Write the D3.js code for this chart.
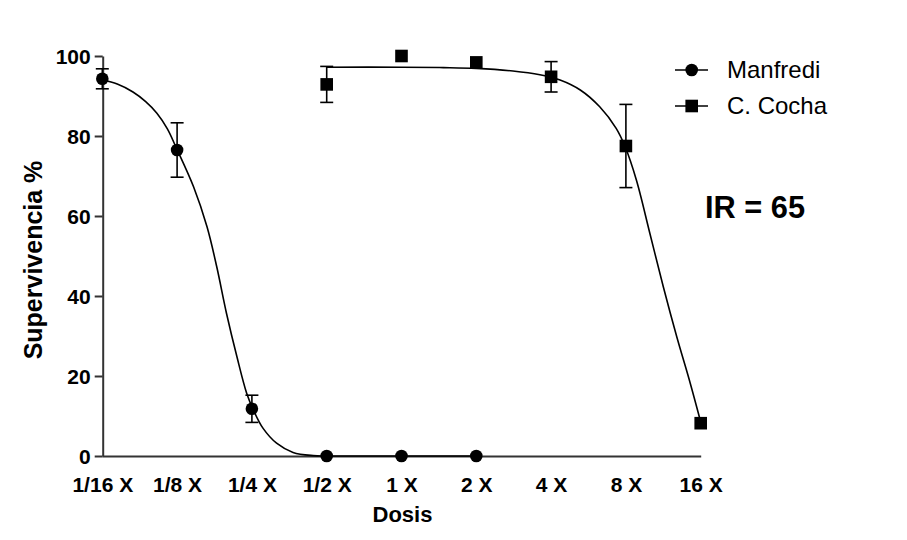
<!DOCTYPE html>
<html>
<head>
<meta charset="utf-8">
<script src="https://cdn.jsdelivr.net/npm/d3@7"></script>
<style>
  body { margin: 0; background: #fff; }
  text { font-family: "Liberation Sans", Arial, sans-serif; fill: #000; }
</style>
</head>
<body>
<div id="chart"></div>
<script>
// doses on the x axis (equally spaced, log2 steps)
var doses = ["1/16 X", "1/8 X", "1/4 X", "1/2 X", "1 X", "2 X", "4 X", "8 X", "16 X"];
var yTicks = [0, 20, 40, 60, 80, 100];

// Manfredi: mean survival and error, one per dose from 1/16 X
var manfrediDose = ["1/16 X", "1/8 X", "1/4 X", "1/2 X", "1 X", "2 X"];
var manfrediMean = [94.3, 76.5, 11.8, 0, 0, 0];
var manfrediErr  = [2.5, 6.8, 3.4, 0, 0, 0];

// C. Cocha
var cochaDose = ["1/2 X", "1 X", "2 X", "4 X", "8 X", "16 X"];
var cochaMean = [92.9, 100, 98.4, 94.8, 77.5, 8.2];
var cochaErr  = [4.5, 0, 0, 3.8, 10.4, 0];

// fitted curves (x = dose step index, y = %)
var manfrediFitX = [0, 0.2, 0.41, 0.58, 0.73, 0.87, 0.99, 1.22, 1.40, 1.53, 1.66, 1.80, 1.93, 2.02, 2.15, 2.33, 2.55, 2.82, 3, 4, 5];
var manfrediFitY = [94.0, 93.0, 91.0, 88.6, 85.7, 81.8, 77.0, 67.3, 57.3, 47.3, 35.7, 24.8, 15.7, 11.5, 6.9, 3.2, 0.9, 0.1, 0, 0, 0];
var cochaFitX = [3, 4, 4.56, 5.0, 5.49, 5.85, 6.12, 6.39, 6.65, 6.87, 6.99, 7.14, 7.32, 7.50, 7.68, 7.86, 8];
var cochaFitY = [97.2, 97.2, 97.1, 96.9, 96.25, 95.3, 94.0, 91.5, 87.3, 81.9, 77.3, 69.0, 55.7, 42.3, 29.8, 18.2, 8.5];

var legendNames = ["Manfredi", "C. Cocha"];

var width = 907, height = 540;
var axisColor = "#333";

var svg = d3.select("#chart").append("svg")
    .attr("width", width)
    .attr("height", height);

var x = d3.scalePoint().domain(doses).range([102.3, 700.7]);
var xi = d3.scaleLinear().domain([0, doses.length - 1]).range([102.3, 700.7]);
var y = d3.scaleLinear().domain([0, 100]).range([456, 56]);

// y axis
var yAxis = svg.append("g")
    .attr("transform", "translate(102.7,0)")
    .call(d3.axisLeft(y).tickValues(yTicks).tickSize(8).tickSizeOuter(0).tickPadding(4));
yAxis.select(".domain").attr("stroke", axisColor).attr("stroke-width", 2);
yAxis.selectAll(".tick line").attr("stroke", axisColor).attr("stroke-width", 2);
yAxis.selectAll(".tick text")
    .attr("font-size", 21).attr("font-weight", "bold")
    .attr("fill", "#000").attr("dy", "0.37em")
    .attr("font-family", "Liberation Sans, Arial, sans-serif");

// x axis
var xAxis = svg.append("g")
    .attr("transform", "translate(0,456)")
    .call(d3.axisBottom(x).tickSize(0).tickSizeOuter(0).tickPadding(21));
xAxis.select(".domain").attr("stroke", axisColor).attr("stroke-width", 2);
xAxis.selectAll(".tick text")
    .attr("font-size", 21).attr("font-weight", "bold")
    .attr("fill", "#000")
    .attr("font-family", "Liberation Sans, Arial, sans-serif");

// axis titles
svg.append("text")
    .attr("x", 402.5).attr("y", 522)
    .attr("text-anchor", "middle")
    .attr("font-size", 22).attr("font-weight", "bold")
    .text("Dosis");

svg.append("text")
    .attr("transform", "translate(42,260) rotate(-90)")
    .attr("text-anchor", "middle")
    .attr("font-size", 25).attr("font-weight", "bold")
    .text("Supervivencia %");

// fitted curves
var line = d3.line()
    .x(function(d) { return xi(d[0]); })
    .y(function(d) { return y(d[1]); })
    .curve(d3.curveCatmullRom.alpha(0.5));

svg.append("path")
    .datum(d3.zip(manfrediFitX, manfrediFitY))
    .attr("d", line)
    .attr("fill", "none").attr("stroke", "#000").attr("stroke-width", 1.6);

svg.append("path")
    .datum(d3.zip(cochaFitX, cochaFitY))
    .attr("d", line)
    .attr("fill", "none").attr("stroke", "#000").attr("stroke-width", 1.6);

// error bars
function drawErrors(doseList, means, errs) {
  var data = d3.zip(doseList, means, errs).filter(function(d) { return d[2] > 0; });
  var g = svg.append("g").attr("stroke", "#000").attr("stroke-width", 1.6);
  data.forEach(function(d) {
    var cx = x(d[0]);
    g.append("line").attr("x1", cx).attr("x2", cx)
      .attr("y1", y(d[1] - d[2])).attr("y2", y(d[1] + d[2]));
    g.append("line").attr("x1", cx - 6.5).attr("x2", cx + 6.5)
      .attr("y1", y(d[1] + d[2])).attr("y2", y(d[1] + d[2]));
    g.append("line").attr("x1", cx - 6.5).attr("x2", cx + 6.5)
      .attr("y1", y(d[1] - d[2])).attr("y2", y(d[1] - d[2]));
  });
}
drawErrors(manfrediDose, manfrediMean, manfrediErr);
drawErrors(cochaDose, cochaMean, cochaErr);

// markers
svg.append("g").selectAll("circle")
    .data(d3.zip(manfrediDose, manfrediMean))
    .enter().append("circle")
    .attr("cx", function(d) { return x(d[0]); })
    .attr("cy", function(d) { return y(d[1]); })
    .attr("r", 6.3)
    .attr("fill", "#000");

svg.append("g").selectAll("rect")
    .data(d3.zip(cochaDose, cochaMean))
    .enter().append("rect")
    .attr("x", function(d) { return x(d[0]) - 6.3; })
    .attr("y", function(d) { return y(d[1]) - 6.3; })
    .attr("width", 12.6).attr("height", 12.6)
    .attr("fill", "#000");

// legend
var legend = svg.append("g").selectAll("g")
    .data(legendNames)
    .enter().append("g")
    .attr("transform", function(d, i) { return "translate(0," + (70 + i * 36) + ")"; });
legend.append("line")
    .attr("x1", 675).attr("x2", 708).attr("y1", 0).attr("y2", 0)
    .attr("stroke", "#000").attr("stroke-width", 1.6);
legend.each(function(d, i) {
  var g = d3.select(this);
  if (i === 0) {
    g.append("circle").attr("cx", 691.7).attr("cy", 0).attr("r", 6.3).attr("fill", "#000");
  } else {
    g.append("rect").attr("x", 685.4).attr("y", -6.3).attr("width", 12.6).attr("height", 12.6).attr("fill", "#000");
  }
});
legend.append("text")
    .attr("x", 727).attr("y", 7.5)
    .attr("font-size", 24)
    .text(function(d) { return d; });

// resistance ratio annotation
svg.append("text")
    .attr("x", 705).attr("y", 218)
    .attr("font-family", "Lato, 'Open Sans', sans-serif")
    .attr("font-size", 31).attr("font-weight", "bold")
    .attr("textLength", 100).attr("lengthAdjust", "spacingAndGlyphs")
    .text("IR = 65");
</script>
</body>
</html>
